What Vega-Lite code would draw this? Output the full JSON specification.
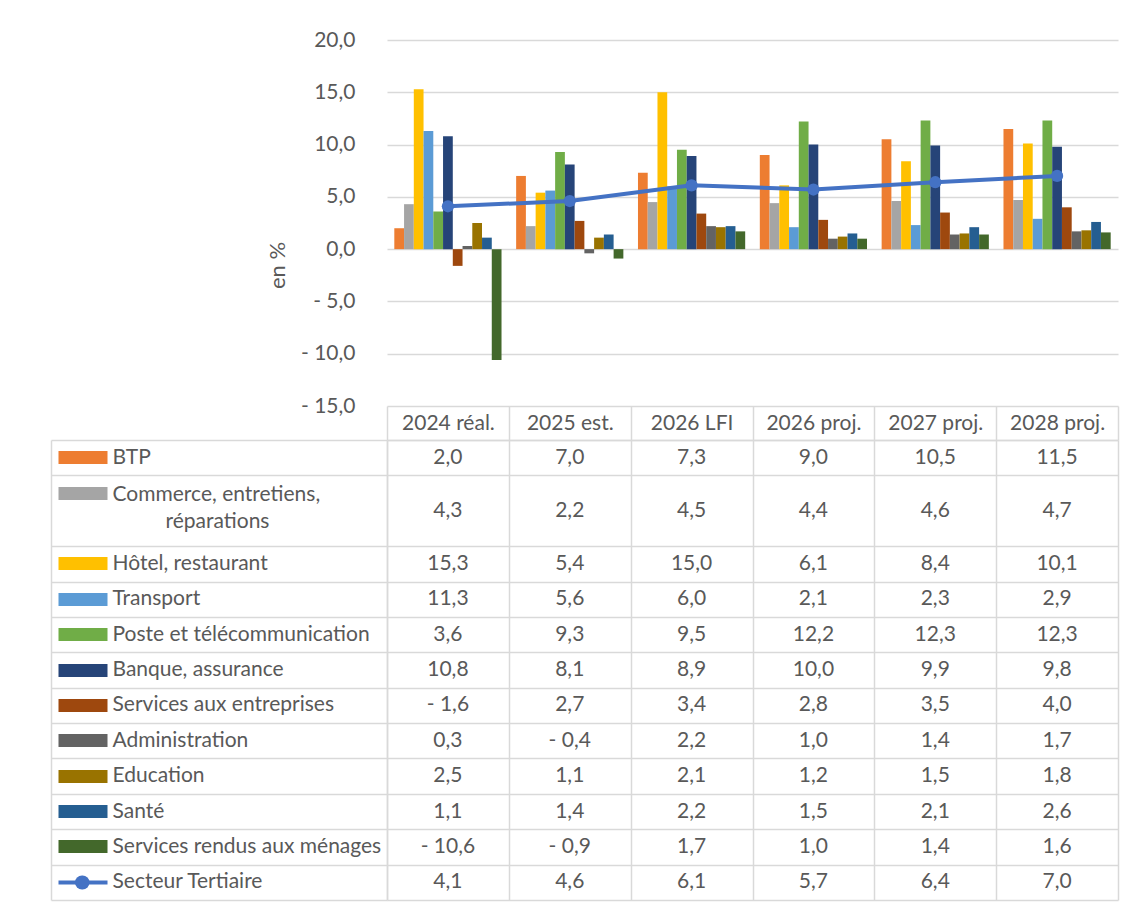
{
  "$schema": "https://vega.github.io/schema/vega-lite/v6.json",
  "padding": {"left": 50, "top": 29, "right": 5, "bottom": 5},
  "spacing": 34,
  "bounds": "flush",
  "datasets": {
    "d": [
      {"series": "BTP", "year": "2024 réal.", "value": 2.0},
      {"series": "BTP", "year": "2025 est.", "value": 7.0},
      {"series": "BTP", "year": "2026 LFI", "value": 7.3},
      {"series": "BTP", "year": "2026 proj.", "value": 9.0},
      {"series": "BTP", "year": "2027 proj.", "value": 10.5},
      {"series": "BTP", "year": "2028 proj.", "value": 11.5},
      {"series": "Commerce, entretiens, réparations", "year": "2024 réal.", "value": 4.3},
      {"series": "Commerce, entretiens, réparations", "year": "2025 est.", "value": 2.2},
      {"series": "Commerce, entretiens, réparations", "year": "2026 LFI", "value": 4.5},
      {"series": "Commerce, entretiens, réparations", "year": "2026 proj.", "value": 4.4},
      {"series": "Commerce, entretiens, réparations", "year": "2027 proj.", "value": 4.6},
      {"series": "Commerce, entretiens, réparations", "year": "2028 proj.", "value": 4.7},
      {"series": "Hôtel, restaurant", "year": "2024 réal.", "value": 15.3},
      {"series": "Hôtel, restaurant", "year": "2025 est.", "value": 5.4},
      {"series": "Hôtel, restaurant", "year": "2026 LFI", "value": 15.0},
      {"series": "Hôtel, restaurant", "year": "2026 proj.", "value": 6.1},
      {"series": "Hôtel, restaurant", "year": "2027 proj.", "value": 8.4},
      {"series": "Hôtel, restaurant", "year": "2028 proj.", "value": 10.1},
      {"series": "Transport", "year": "2024 réal.", "value": 11.3},
      {"series": "Transport", "year": "2025 est.", "value": 5.6},
      {"series": "Transport", "year": "2026 LFI", "value": 6.0},
      {"series": "Transport", "year": "2026 proj.", "value": 2.1},
      {"series": "Transport", "year": "2027 proj.", "value": 2.3},
      {"series": "Transport", "year": "2028 proj.", "value": 2.9},
      {"series": "Poste et télécommunication", "year": "2024 réal.", "value": 3.6},
      {"series": "Poste et télécommunication", "year": "2025 est.", "value": 9.3},
      {"series": "Poste et télécommunication", "year": "2026 LFI", "value": 9.5},
      {"series": "Poste et télécommunication", "year": "2026 proj.", "value": 12.2},
      {"series": "Poste et télécommunication", "year": "2027 proj.", "value": 12.3},
      {"series": "Poste et télécommunication", "year": "2028 proj.", "value": 12.3},
      {"series": "Banque, assurance", "year": "2024 réal.", "value": 10.8},
      {"series": "Banque, assurance", "year": "2025 est.", "value": 8.1},
      {"series": "Banque, assurance", "year": "2026 LFI", "value": 8.9},
      {"series": "Banque, assurance", "year": "2026 proj.", "value": 10.0},
      {"series": "Banque, assurance", "year": "2027 proj.", "value": 9.9},
      {"series": "Banque, assurance", "year": "2028 proj.", "value": 9.8},
      {"series": "Services aux entreprises", "year": "2024 réal.", "value": -1.6},
      {"series": "Services aux entreprises", "year": "2025 est.", "value": 2.7},
      {"series": "Services aux entreprises", "year": "2026 LFI", "value": 3.4},
      {"series": "Services aux entreprises", "year": "2026 proj.", "value": 2.8},
      {"series": "Services aux entreprises", "year": "2027 proj.", "value": 3.5},
      {"series": "Services aux entreprises", "year": "2028 proj.", "value": 4.0},
      {"series": "Administration", "year": "2024 réal.", "value": 0.3},
      {"series": "Administration", "year": "2025 est.", "value": -0.4},
      {"series": "Administration", "year": "2026 LFI", "value": 2.2},
      {"series": "Administration", "year": "2026 proj.", "value": 1.0},
      {"series": "Administration", "year": "2027 proj.", "value": 1.4},
      {"series": "Administration", "year": "2028 proj.", "value": 1.7},
      {"series": "Education", "year": "2024 réal.", "value": 2.5},
      {"series": "Education", "year": "2025 est.", "value": 1.1},
      {"series": "Education", "year": "2026 LFI", "value": 2.1},
      {"series": "Education", "year": "2026 proj.", "value": 1.2},
      {"series": "Education", "year": "2027 proj.", "value": 1.5},
      {"series": "Education", "year": "2028 proj.", "value": 1.8},
      {"series": "Santé", "year": "2024 réal.", "value": 1.1},
      {"series": "Santé", "year": "2025 est.", "value": 1.4},
      {"series": "Santé", "year": "2026 LFI", "value": 2.2},
      {"series": "Santé", "year": "2026 proj.", "value": 1.5},
      {"series": "Santé", "year": "2027 proj.", "value": 2.1},
      {"series": "Santé", "year": "2028 proj.", "value": 2.6},
      {"series": "Services rendus aux ménages", "year": "2024 réal.", "value": -10.6},
      {"series": "Services rendus aux ménages", "year": "2025 est.", "value": -0.9},
      {"series": "Services rendus aux ménages", "year": "2026 LFI", "value": 1.7},
      {"series": "Services rendus aux ménages", "year": "2026 proj.", "value": 1.0},
      {"series": "Services rendus aux ménages", "year": "2027 proj.", "value": 1.4},
      {"series": "Services rendus aux ménages", "year": "2028 proj.", "value": 1.6},
      {"series": "Secteur Tertiaire", "year": "2024 réal.", "value": 4.1},
      {"series": "Secteur Tertiaire", "year": "2025 est.", "value": 4.6},
      {"series": "Secteur Tertiaire", "year": "2026 LFI", "value": 6.1},
      {"series": "Secteur Tertiaire", "year": "2026 proj.", "value": 5.7},
      {"series": "Secteur Tertiaire", "year": "2027 proj.", "value": 6.4},
      {"series": "Secteur Tertiaire", "year": "2028 proj.", "value": 7.0}
    ]
  },
  "vconcat": [
    {
      "width": 731,
      "height": 366,
      "data": {"name": "d"},
      "layer": [
        {
          "transform": [{"filter": "datum.series !== 'Secteur Tertiaire'"}],
          "mark": {"type": "bar"},
          "encoding": {
            "x": {"field": "year", "type": "nominal", "scale": {"domain": ["2024 réal.", "2025 est.", "2026 LFI", "2026 proj.", "2027 proj.", "2028 proj."], "paddingInner": 0.12, "paddingOuter": 0.06}, "axis": null},
            "xOffset": {"field": "series", "type": "nominal", "scale": {"domain": ["BTP", "Commerce, entretiens, réparations", "Hôtel, restaurant", "Transport", "Poste et télécommunication", "Banque, assurance", "Services aux entreprises", "Administration", "Education", "Santé", "Services rendus aux ménages"], "paddingInner": 0, "paddingOuter": 0}},
            "y": {"field": "value", "type": "quantitative", "scale": {"domain": [-15, 20], "nice": false, "zero": false},
              "axis": {"values": [-15, -10, -5, 0, 5, 10, 15, 20], "format": ".1f", "grid": true, "gridColor": "#D9D9D9", "gridWidth": 1.5, "domain": false, "ticks": false, "labelPadding": 32, "labelFontSize": 21, "labelColor": "#595959", "title": "en %", "titleFontSize": 22, "titleFontWeight": "normal", "titleColor": "#595959", "titleX": -110, "titleY": 225, "titleBaseline": "middle", "titleAngle": -90}},
            "color": {"field": "series", "type": "nominal", "legend": null, "scale": {"domain": ["BTP", "Commerce, entretiens, réparations", "Hôtel, restaurant", "Transport", "Poste et télécommunication", "Banque, assurance", "Services aux entreprises", "Administration", "Education", "Santé", "Services rendus aux ménages"], "range": ["#ED7D31", "#A5A5A5", "#FFC000", "#5B9BD5", "#70AD47", "#264478", "#9E480E", "#636363", "#997300", "#255E91", "#43682B"]}}
          }
        },
        {
          "transform": [{"filter": "datum.series === 'Secteur Tertiaire'"}],
          "mark": {"type": "line", "color": "#4472C4", "strokeWidth": 4, "point": {"filled": true, "size": 150, "color": "#4472C4", "opacity": 1}},
          "encoding": {
            "x": {"field": "year", "type": "nominal", "scale": {"domain": ["2024 réal.", "2025 est.", "2026 LFI", "2026 proj.", "2027 proj.", "2028 proj."], "paddingInner": 0.12, "paddingOuter": 0.06}, "axis": null},
            "y": {"field": "value", "type": "quantitative", "scale": {"domain": [-15, 20], "nice": false, "zero": false}}
          }
        }
      ]
    },
    {
      "width": 731,
      "height": 460,
      "data": {"name": "d"},
      "resolve": {"axis": {"y": "independent"}},
      "layer": [
        {
          "transform": [{"filter": "datum.series !== 'Commerce, entretiens, réparations'"}],
          "mark": {"type": "text", "fontSize": 21, "color": "#595959", "align": "center", "baseline": "middle"},
          "encoding": {
            "x": {"field": "year", "type": "nominal", "scale": {"domain": ["2024 réal.", "2025 est.", "2026 LFI", "2026 proj.", "2027 proj.", "2028 proj."], "paddingInner": 0, "paddingOuter": 0},
              "axis": {"orient": "top", "title": null, "domain": true, "domainColor": "#D9D9D9", "domainWidth": 1.5, "ticks": true, "tickBand": "extent", "tickSize": 34, "tickColor": "#D9D9D9", "tickWidth": 1.5, "grid": true, "gridColor": "#D9D9D9", "gridWidth": 1.5, "labelAngle": 0, "labelBaseline": "middle", "labelAlign": "center", "labelPadding": -17, "labelColor": "#595959", "labelFontSize": 21}},
            "y": {"field": "series", "type": "nominal", "scale": {"domain": ["BTP", "Commerce, entretiens, réparations", "réparations", "Hôtel, restaurant", "Transport", "Poste et télécommunication", "Banque, assurance", "Services aux entreprises", "Administration", "Education", "Santé", "Services rendus aux ménages", "Secteur Tertiaire"], "paddingInner": 0, "paddingOuter": 0},
              "axis": {"orient": "left", "title": null, "labels": false, "domain": true, "domainColor": "#D9D9D9", "domainWidth": 1.5, "ticks": true, "tickBand": "extent", "tickSize": 336, "tickColor": "#D9D9D9", "tickWidth": 1.5, "tickOpacity": {"condition": {"test": "datum.value === 'Commerce, entretiens, réparations'", "value": 0}, "value": 1}, "grid": true, "gridColor": "#D9D9D9", "gridWidth": 1.5, "gridOpacity": {"condition": {"test": "datum.value === 'Commerce, entretiens, réparations'", "value": 0}, "value": 1}}},
            "text": {"field": "value", "type": "quantitative", "format": ".1f"}
          }
        },
        {
          "transform": [{"filter": "datum.series === 'Commerce, entretiens, réparations'"}],
          "mark": {"type": "text", "fontSize": 21, "color": "#595959", "align": "center", "baseline": "middle"},
          "encoding": {
            "x": {"field": "year", "type": "nominal", "scale": {"domain": ["2024 réal.", "2025 est.", "2026 LFI", "2026 proj.", "2027 proj.", "2028 proj."], "paddingInner": 0, "paddingOuter": 0},
              "axis": {"orient": "top", "title": null, "domain": true, "domainColor": "#D9D9D9", "domainWidth": 1.5, "ticks": true, "tickBand": "extent", "tickSize": 34, "tickColor": "#D9D9D9", "tickWidth": 1.5, "grid": true, "gridColor": "#D9D9D9", "gridWidth": 1.5, "labelAngle": 0, "labelBaseline": "middle", "labelAlign": "center", "labelPadding": -17, "labelColor": "#595959", "labelFontSize": 21}},
            "y": {"field": "series", "type": "nominal", "bandPosition": 1, "scale": {"domain": ["BTP", "Commerce, entretiens, réparations", "réparations", "Hôtel, restaurant", "Transport", "Poste et télécommunication", "Banque, assurance", "Services aux entreprises", "Administration", "Education", "Santé", "Services rendus aux ménages", "Secteur Tertiaire"], "paddingInner": 0, "paddingOuter": 0}, "axis": null},
            "text": {"field": "value", "type": "quantitative", "format": ".1f"}
          }
        },
        {
          "transform": [{"filter": "datum.year === '2024 réal.'"}],
          "mark": {"type": "text", "text": "", "opacity": 0},
          "encoding": {
            "y": {"field": "series", "type": "nominal", "scale": {"domain": ["BTP", "Commerce, entretiens, réparations", "réparations", "Hôtel, restaurant", "Transport", "Poste et télécommunication", "Banque, assurance", "Services aux entreprises", "Administration", "Education", "Santé", "Services rendus aux ménages", "Secteur Tertiaire"], "paddingInner": 0, "paddingOuter": 0},
              "axis": {"orient": "left", "offset": 280, "title": null, "domain": false, "grid": false, "ticks": true, "tickSize": 49,
                "tickWidth": {"condition": {"test": "datum.value === 'Secteur Tertiaire'", "value": 4}, "value": 13},
                "tickOpacity": {"condition": {"test": "datum.value === 'réparations'", "value": 0}, "value": 1},
                "tickColor": {"condition": [
                  {"test": "datum.value === 'BTP'", "value": "#ED7D31"},
                  {"test": "datum.value === 'Commerce, entretiens, réparations'", "value": "#A5A5A5"},
                  {"test": "datum.value === 'Hôtel, restaurant'", "value": "#FFC000"},
                  {"test": "datum.value === 'Transport'", "value": "#5B9BD5"},
                  {"test": "datum.value === 'Poste et télécommunication'", "value": "#70AD47"},
                  {"test": "datum.value === 'Banque, assurance'", "value": "#264478"},
                  {"test": "datum.value === 'Services aux entreprises'", "value": "#9E480E"},
                  {"test": "datum.value === 'Administration'", "value": "#636363"},
                  {"test": "datum.value === 'Education'", "value": "#997300"},
                  {"test": "datum.value === 'Santé'", "value": "#255E91"},
                  {"test": "datum.value === 'Services rendus aux ménages'", "value": "#43682B"}
                ], "value": "#4472C4"},
                "labels": true, "labelAlign": "left", "labelBaseline": "middle",
                "labelPadding": {"condition": {"test": "datum.value === 'réparations'", "value": -107}, "value": -54},
                "labelOffset": {"condition": [
                  {"test": "datum.value === 'réparations'", "value": -6},
                  {"test": "datum.value === 'Commerce, entretiens, réparations'", "value": 2}
                ], "value": 0},
                "labelColor": "#595959", "labelFontSize": 21, "labelLimit": 400, "labelOverlap": false, "labelFlush": false,
                "labelExpr": "datum.value === 'Commerce, entretiens, réparations' ? 'Commerce, entretiens,' : datum.label"}}
          }
        },
        {
          "transform": [{"filter": "datum.year === '2024 réal.'"}],
          "mark": {"type": "text", "text": "", "opacity": 0},
          "encoding": {
            "y": {"field": "series", "type": "nominal", "scale": {"domain": ["BTP", "Commerce, entretiens, réparations", "réparations", "Hôtel, restaurant", "Transport", "Poste et télécommunication", "Banque, assurance", "Services aux entreprises", "Administration", "Education", "Santé", "Services rendus aux ménages", "Secteur Tertiaire"], "paddingInner": 0, "paddingOuter": 0},
              "axis": {"orient": "left", "offset": 305, "title": null, "domain": false, "grid": false, "labels": false, "ticks": true, "tickSize": 0.5, "tickWidth": 14, "tickCap": "round", "tickColor": "#4472C4",
                "tickOpacity": {"condition": {"test": "datum.value === 'Secteur Tertiaire'", "value": 1}, "value": 0}}}
          }
        },
        {
          "transform": [{"filter": "datum.year === '2024 réal.'"}],
          "mark": {"type": "text", "text": "", "opacity": 0},
          "encoding": {
            "y": {"field": "series", "type": "nominal", "scale": {"domain": ["BTP", "Commerce, entretiens, réparations", "réparations", "Hôtel, restaurant", "Transport", "Poste et télécommunication", "Banque, assurance", "Services aux entreprises", "Administration", "Education", "Santé", "Services rendus aux ménages", "Secteur Tertiaire"], "paddingInner": 0, "paddingOuter": 0},
              "axis": {"orient": "left", "offset": 336, "title": null, "domain": true, "domainColor": "#D9D9D9", "domainWidth": 1.5, "grid": false, "labels": false, "ticks": false}}
          }
        }
      ]
    }
  ],
  "config": {
    "font": "Lato",
    "view": {"stroke": null},
    "axis": {"labelFont": "Lato", "titleFont": "Lato"},
    "text": {"font": "Lato"},
    "locale": {"number": {"decimal": ",", "thousands": " ", "grouping": [3], "currency": ["", " €"], "minus": "- "}}
  }
}
